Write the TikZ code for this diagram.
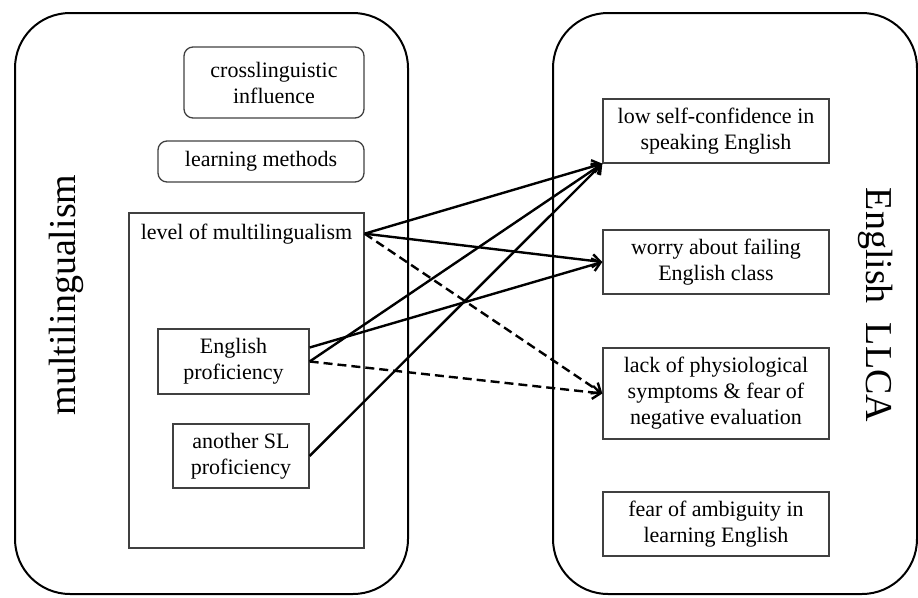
\documentclass[tikz,border=0pt]{standalone}
\usepackage{fontspec}
\setmainfont{Liberation Serif}
\usetikzlibrary{arrows.meta,positioning}
\tikzset{
  panel/.style={draw=black,line width=2pt,rounded corners=55pt},
  panellabel/.style={font=\fontsize{38}{44}\selectfont,inner sep=0pt},
  factor/.style={draw=black!75,line width=1.3pt,align=center,inner sep=2pt,font=\fontsize{22}{26}\selectfont},
  softfactor/.style={factor,rounded corners=9pt},
  link/.style={-{Straight Barb[length=8pt,width=13pt]},line width=2.4pt},
  weaklink/.style={link,dash pattern=on 9pt off 5pt}
}

\begin{document}
\begin{tikzpicture}[x=1pt,y=-1pt]
  \useasboundingbox (0,0) rectangle (918,597);
  % two panels
  \node[panel,minimum width=393pt,minimum height=581pt] (multipanel) at (211.5,303.5) {};
  \node[panel,minimum width=364pt,minimum height=581pt] (llcapanel) at (735,303.5) {};
  \node[panellabel,rotate=90] (multilabel) at (66,295) {multilingualism};
  \node[panellabel,rotate=-90] (llcalabel) at (876,305) {English\ \ LLCA};
  % multilingualism side
  \node[softfactor,minimum width=180pt,minimum height=71pt] (crossling) at (274,82.5) {crosslinguistic\\influence};
  \node[softfactor,minimum width=206pt,minimum height=41pt] (methods) at (261,161.5) {learning methods};
  \node[factor,minimum width=235pt,minimum height=335pt] (level) at (246.5,380.5) {};
  \node[font=\fontsize{22}{26}\selectfont,inner sep=0pt,below=11pt of level.north] (levellabel) {level of multilingualism};
  \node[factor,minimum width=151pt,minimum height=65pt] (engprof) at (233.5,361.5) {English\\proficiency};
  \node[factor,minimum width=136pt,minimum height=64pt] (slprof) at (241,456) {another SL\\proficiency};
  % anxiety side
  \node[factor,minimum width=226pt,minimum height=64pt] (lowconf) at (716,131) {low self-confidence in\\speaking English};
  \node[factor,minimum width=226pt,minimum height=64pt] (worry) at (716,262) {worry about failing\\English class};
  \node[factor,minimum width=226pt,minimum height=91pt] (lack) at (716,393.5) {lack of physiological\\symptoms \& fear of\\negative evaluation};
  \node[factor,minimum width=226pt,minimum height=64pt] (ambig) at (716,524) {fear of ambiguity in\\learning English};
  % links
  \draw[link] (level.east |- levellabel) -- (lowconf.south west);
  \draw[link] (level.east |- levellabel) -- (worry.west);
  \draw[weaklink] (level.east |- levellabel) -- (lack.west);
  \draw[link] ([yshift=14pt]engprof.east) -- (worry.west);
  \draw[link] (engprof.east) -- (lowconf.south west);
  \draw[weaklink] (engprof.east) -- (lack.west);
  \draw[link] (slprof.east) -- (lowconf.south west);
\end{tikzpicture}
\end{document}
